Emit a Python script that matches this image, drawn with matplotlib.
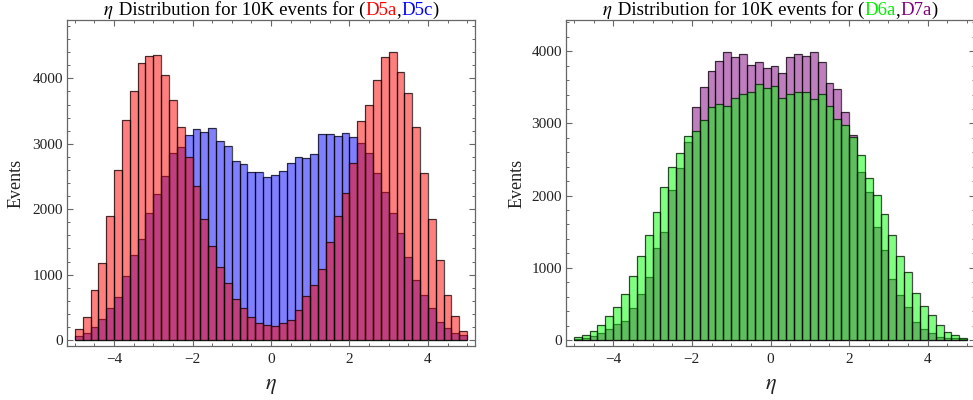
import numpy as np
import matplotlib
matplotlib.use("Agg")
import matplotlib.pyplot as plt
from matplotlib.ticker import MultipleLocator

# eta bins: 50 bins of width 0.2 from -5 to 5
bin_edges = np.linspace(-5, 5, 51)

# left panel counts per bin
d5a = [163, 347, 765, 1182, 1896, 2600, 3364, 3807, 4230, 4343,
       4363, 4057, 3670, 3252, 2793, 2355, 1845, 1437, 1121, 866,
       622, 484, 347, 265, 225, 214, 265, 306, 459, 673,
       841, 1081, 1504, 1896, 2243, 2712, 3349, 3588, 3976, 4332,
       4404, 4103, 3782, 3252, 2559, 1850, 1223, 688, 367, 143]
d5c = [61, 102, 194, 316, 484, 652, 979, 1295, 1544, 1947,
       2227, 2508, 2854, 2946, 3135, 3221, 3185, 3236, 3048, 2966,
       2742, 2691, 2564, 2569, 2487, 2523, 2584, 2701, 2803, 2788,
       2839, 3145, 3145, 3119, 3160, 3099, 3007, 2854, 2548, 2268,
       1947, 1631, 1264, 917, 688, 484, 270, 178, 102, 76]

# right panel counts per bin
d6a = [46, 74, 120, 208, 337, 462, 637, 891, 1164, 1460,
       1774, 2125, 2397, 2587, 2831, 2896, 3048, 3233, 3266, 3242,
       3349, 3409, 3436, 3547, 3497, 3515, 3349, 3404, 3441, 3432,
       3335, 3404, 3247, 3058, 2979, 2818, 2564, 2240, 2009, 1741,
       1455, 1164, 947, 647, 476, 342, 208, 115, 65, 32]
d7a = [18, 32, 55, 92, 148, 222, 268, 448, 637, 868,
       1270, 1501, 2074, 2379, 2748, 3224, 3510, 3727, 3871, 3995,
       3917, 3963, 3811, 3848, 3764, 3801, 3695, 3917, 3963, 3935,
       3982, 3848, 3566, 3473, 3164, 2841, 2323, 2055, 1561, 1247,
       841, 624, 453, 254, 148, 92, 46, 32, 28, 18]

title_left = [(r"$\eta$", "black"), (" Distribution for 10K events for (", "black"),
              ("D5a", "red"), (",", "black"), ("D5c", "blue"), (")", "black")]
title_right = [(r"$\eta$", "black"), (" Distribution for 10K events for (", "black"),
               ("D6a", "#00ee00"), (",", "black"), ("D7a", "#800080"), (")", "black")]

FRAME = "#666666"
plt.rcParams["font.family"] = "Liberation Serif"
plt.rcParams["mathtext.fontset"] = "stix"

W, H = 973, 400
fig = plt.figure(figsize=(W / 100, H / 100), dpi=100)


def px_axes(left, right, top=20, bottom=346):
    return fig.add_axes([left / W, 1 - bottom / H, (right - left) / W, (bottom - top) / H])


def hist(ax, counts, color):
    ax.bar(bin_edges[:-1], counts, width=0.2, align="edge",
           color=color, alpha=0.5, edgecolor="none")
    ax.bar(bin_edges[:-1], counts, width=0.2, align="edge",
           facecolor="none", edgecolor=(0, 0, 0, 0.7), linewidth=0.9)


def style(ax, ylim):
    ax.set_xlim(-5.2, 5.2)
    ax.set_ylim(*ylim)
    ax.xaxis.set_major_locator(MultipleLocator(2))
    ax.xaxis.set_minor_locator(MultipleLocator(0.5))
    ax.yaxis.set_major_locator(MultipleLocator(1000))
    ax.yaxis.set_minor_locator(MultipleLocator(200))
    ax.tick_params(which="both", direction="in", top=True, right=True,
                   color=FRAME, labelsize=11, labelcolor="#222222")
    ax.tick_params(which="major", length=4.5, width=0.8)
    ax.tick_params(which="minor", length=2.5, width=0.7)
    ax.tick_params(axis="x", pad=5)
    ax.tick_params(axis="y", pad=3)
    for s in ax.spines.values():
        s.set_color(FRAME)
        s.set_linewidth(0.9)
    ax.set_xlabel(r"$\eta$", fontsize=16, color="#222222")
    ax.set_ylabel("Events", fontsize=13, color="#222222")
    ax.xaxis.set_label_coords(0.5, -0.095)


def colored_title(center_px, parts, base_px=15):
    # each piece is its own text so it can keep its colour; line up after measuring
    texts = [fig.text(0, 1 - base_px / H, t, color=c, fontsize=13.6,
                      ha="left", va="baseline") for t, c in parts]
    fig.canvas.draw()
    r = fig.canvas.get_renderer()
    widths = [t.get_window_extent(r).width for t in texts]
    x = center_px - sum(widths) / 2
    for t, w in zip(texts, widths):
        t.set_x(x / W)
        x += w


ax1 = px_axes(67, 475)
hist(ax1, d5c, (0, 0, 1))
hist(ax1, d5a, (1, 0, 0))
style(ax1, (-92, 4893))
ax1.yaxis.set_label_coords(-0.103, 0.5)

ax2 = px_axes(566, 975)
hist(ax2, d7a, (0.5, 0, 0.5))
hist(ax2, d6a, (0, 1, 0))
style(ax2, (-83, 4432))
ax2.yaxis.set_label_coords(-0.1, 0.5)

colored_title(271, title_left)
colored_title(770, title_right)

fig.savefig("out.png", dpi=100)
